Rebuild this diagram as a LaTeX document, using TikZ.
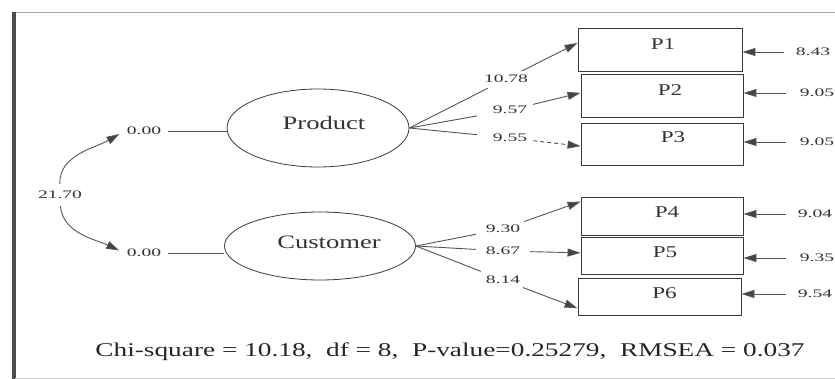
\documentclass[tikz,border=0pt]{standalone}
\usepackage{fontspec}
\setmainfont{Liberation Serif}[FakeStretch=1.4]
\newfontfamily\lblfont{Liberation Serif}[FakeStretch=1.7]
\usetikzlibrary{arrows.meta,calc,shapes.geometric}
\definecolor{ln}{HTML}{555555}
\definecolor{hd}{HTML}{444444}
\definecolor{bx}{HTML}{3A3A3A}
\definecolor{tx}{HTML}{333333}
\begin{document}
\begin{tikzpicture}[x=1pt,y=-1pt,
  latent/.style={ellipse,draw=bx,line width=0.8pt,minimum width=182pt,minimum height=78pt,inner sep=0pt,font=\fontsize{19}{19}\selectfont,text=tx},
  obsbox/.style={rectangle,draw=bx,line width=0.9pt,minimum width=163pt,inner sep=0pt},
  boxtext/.style={font=\fontsize{16.5}{16.5}\selectfont,text=tx},
  num/.style={font=\lblfont\fontsize{11.5}{11.5}\selectfont,text=tx,inner sep=2pt},
  plain/.style={draw=ln,line width=0.9pt},
  arr/.style={draw=ln,line width=0.9pt,-{Triangle[length=13pt,width=8pt,fill=hd]}},
]
\useasboundingbox (0,0) rectangle (835,379);
% frame
\draw[gray!70,line width=0.8pt] (12,12) -- (835,12);
\fill[black!70] (12,12) rectangle (15.5,379);
\draw[gray!35,line width=0.6pt] (15,378) -- (835,378);

% latent variables
\node[latent] (prod) at (318,128) {\hspace*{12pt}\raisebox{11pt}{Product}};
\node[latent,minimum width=191pt,minimum height=68pt] (cust) at (320,246) {\hspace*{18pt}\raisebox{8pt}{Customer}};

% observed boxes
\node[obsbox,minimum width=164pt,minimum height=43pt,label={[boxtext,shift={(3pt,5pt)}]center:P1}] (P1) at (660,49.5) {};
\node[obsbox,minimum width=162pt,minimum height=43pt,label={[boxtext,shift={(8pt,5pt)}]center:P2}] (P2) at (662,95.5) {};
\node[obsbox,minimum width=162pt,minimum height=42pt,label={[boxtext,shift={(11pt,7pt)}]center:P3}] (P3) at (662,144) {};
\node[obsbox,minimum width=162pt,minimum height=38pt,label={[boxtext,shift={(5pt,4pt)}]center:P4}] (P4) at (662,216) {};
\node[obsbox,minimum width=162pt,minimum height=37pt,label={[boxtext,shift={(3pt,3pt)}]center:P5}] (P5) at (662,255.5) {};
\node[obsbox,minimum width=163pt,minimum height=37pt,label={[boxtext,shift={(5pt,3pt)}]center:P6}] (P6) at (659.5,296.5) {};

% variance labels
\node[num] (v1) at (144,131) {0.00};
\node[num] (v2) at (144,253) {0.00};
\node[num] (k) at (60,195) {21.70};
\draw[plain,shorten <=5pt] (v1.east) -- (v1.east -| prod.west);
\draw[plain,shorten <=5pt] (v2.east) -- (v2.east -| cust.west);
\draw[arr,shorten <=5pt,shorten >=6pt] (k.north) to[out=92,in=210] (v1.west);
\draw[arr,shorten <=5pt,shorten >=6pt] (k.south) to[out=-85,in=155] (v2.west);

% loadings
\node[num] (l1) at (506,79) {10.78};
\node[num] (l2) at (510,110) {9.57};
\node[num] (l3) at (510,138) {9.55};
\node[num] (l4) at (503,229) {9.30};
\node[num] (l5) at (503,251) {8.67};
\node[num] (l6) at (503,280) {8.14};

\draw[plain,shorten >=7pt] (prod.east) -- (l1);
\draw[plain,shorten >=14pt] (prod.east) -- (l2);
\draw[plain,shorten >=14pt] (prod.east) -- (l3);
\draw[plain,shorten >=8pt] (cust.east) -- (l4);
\draw[plain,shorten >=8pt] (cust.east) -- (l5);
\draw[plain,shorten >=7pt] (cust.east) -- (l6);

\draw[arr,shorten <=4pt] (l1) -- ($(P1.north west)!0.35!(P1.south west)$);
\draw[arr,shorten <=4pt] (l2) -- ($(P2.north west)!0.44!(P2.south west)$);
\draw[arr,shorten <=4pt,dash pattern=on 4pt off 3pt] (l3) -- ($(P3.north west)!0.55!(P3.south west)$);
\draw[arr,shorten <=4pt] (l4) -- ($(P4.north west)!0.13!(P4.south west)$);
\draw[arr,shorten <=8pt] (l5) -- ($(P5.north west)!0.43!(P5.south west)$);
\draw[arr,shorten <=4pt] (l6) -- ($(P6.north west)!0.81!(P6.south west)$);

% error variances
\node[num] (e1) at (813,52) {8.43};
\node[num] (e2) at (817,93) {9.05};
\node[num] (e3) at (817,142) {9.05};
\node[num] (e4) at (815,214) {9.04};
\node[num] (e5) at (817,258) {9.35};
\node[num] (e6) at (815,294) {9.54};
\draw[arr,shorten <=10pt] (e1) -- (e1 -| P1.east);
\draw[arr,shorten <=12pt] (e2) -- (e2 -| P2.east);
\draw[arr,shorten <=12pt] (e3) -- (e3 -| P3.east);
\draw[arr,shorten <=10pt] (e4) -- (e4 -| P4.east);
\draw[arr,shorten <=12pt] (e5) -- (e5 -| P5.east);
\draw[arr,shorten <=10pt] (e6) -- (e6 -| P6.east);

% fit statistics
\node[font=\fontsize{19.5}{19.5}\selectfont,text=black!85] (fit) at (450,352)
  {Chi-square = 10.18,\ \ df = 8,\ \ P-value=0.25279,\ \ RMSEA = 0.037};
\end{tikzpicture}
\end{document}
